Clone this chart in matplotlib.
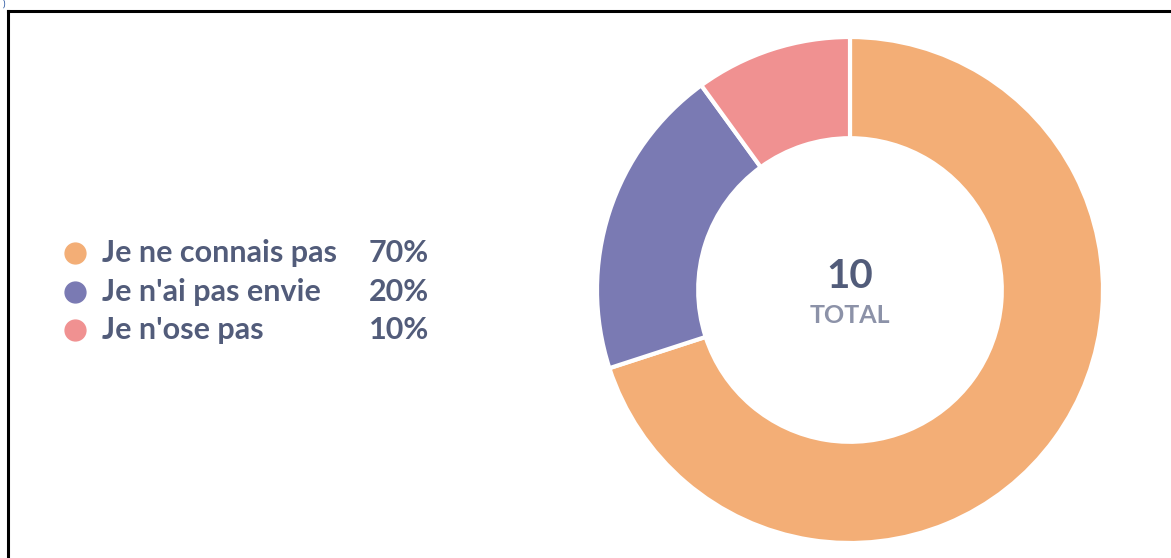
import matplotlib.pyplot as plt
from matplotlib.lines import Line2D

# data
labels = ["Je ne connais pas", "Je n'ai pas envie", "Je n'ose pas"]
values = [7, 2, 1]
colors = ["#F3AE76", "#7A7AB3", "#F09191"]
total = sum(values)

W, H = 1171, 558
plt.rcParams['font.family'] = ['Lato', 'DejaVu Sans']
text_col = "#525C7A"

fig = plt.figure(figsize=(W / 100, H / 100), dpi=100)


def px(x, y):
    # pixel coords (from top-left) -> figure fraction
    return x / W, 1 - y / H


# donut
cx, cy, r = 850, 290, 253
ax = fig.add_axes([(cx - r) / W, (H - cy - r) / H, 2 * r / W, 2 * r / H])
ax.pie(values, colors=colors, startangle=90, counterclock=False, radius=1,
       wedgeprops=dict(width=0.4, edgecolor='white', linewidth=3))
ax.set_xlim(-1, 1)
ax.set_ylim(-1, 1)
ax.set_aspect('equal')
ax.axis('off')
ax.text(0, 0.055, str(total), ha='center', va='center', fontsize=29,
        fontweight='bold', color=text_col)
ax.text(0, -0.1, "TOTAL", ha='center', va='center', fontsize=18,
        fontweight='bold', color="#8C92A8")

# legend
rows_y = [253, 292, 330]
for lab, val, col, y in zip(labels, values, colors, rows_y):
    fig.add_artist(Line2D([px(75, y)[0]], [px(75, y)[1]], marker='o',
                          markersize=15, color=col, linestyle='none',
                          transform=fig.transFigure))
    fig.text(*px(102, y), lab, ha='left', va='center', fontsize=22,
             fontweight='bold', color=text_col)
    fig.text(*px(429, y), f"{round(100 * val / total)}%", ha='right',
             va='center', fontsize=22, fontweight='bold', color=text_col)

# frame lines (top and left only)
fig.add_artist(Line2D([px(8, 11)[0], 1], [px(8, 11)[1]] * 2, color='black',
                      linewidth=2.2, transform=fig.transFigure))
fig.add_artist(Line2D([px(8, 11)[0]] * 2, [px(8, 11)[1], 0], color='black',
                      linewidth=2.2, transform=fig.transFigure))
fig.text(*px(3, 0), ")", fontsize=7, color="#1F4E9C", ha='left', va='top')

fig.savefig('out.png', dpi=100)
